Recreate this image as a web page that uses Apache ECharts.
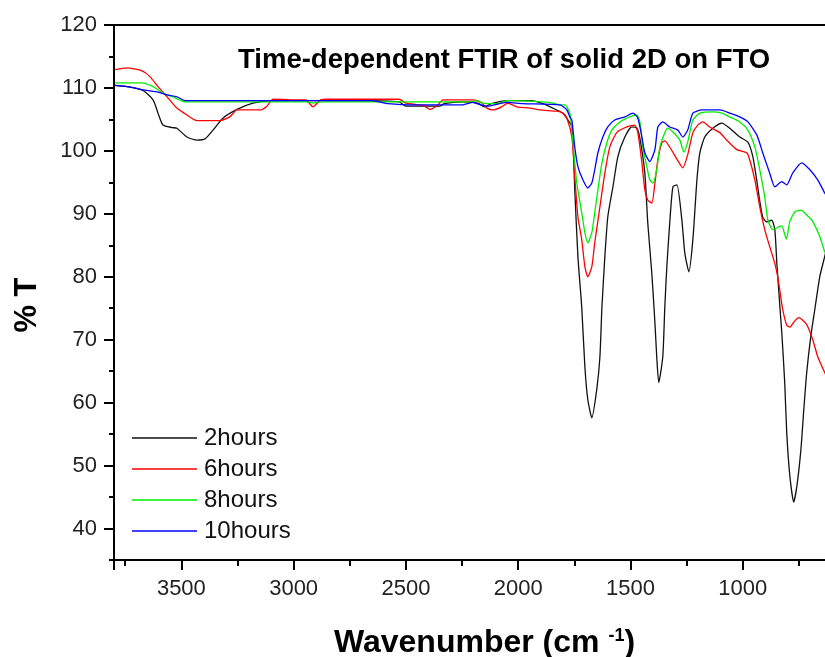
<!DOCTYPE html>
<html><head><meta charset="utf-8">
<script src="https://cdn.jsdelivr.net/npm/echarts@6/dist/echarts.min.js"></script>
<style>html,body{margin:0;padding:0;background:#fff}#c{width:825px;height:657px}</style>
</head><body><div id="c"></div>
<script>
const titleText = 'Time-dependent FTIR of solid 2D on FTO';
const seriesNames = ['2hours', '6hours', '8hours', '10hours'];
const xTickLabels = [3500, 3000, 2500, 2000, 1500, 1000];
const yTickLabels = [40, 50, 60, 70, 80, 90, 100, 110, 120];

const wn2h = [3795,3740,3671,3626,3604,3582,3540,3520,3475,3430,3395,3359,3315,3252,3181,3100,2900,2700,2530,2500,2350,2330,2250,2180,2150,2120,2050,1940,1890,1846,1801,1792,1761,1748,1734,1717,1703,1690,1672,1650,1636,1627,1614,1601,1578,1556,1525,1494,1472,1458,1436,1423,1405,1391,1383,1374,1356,1347,1338,1325,1311,1293,1271,1258,1240,1222,1204,1191,1169,1133,1093,1058,1013,977,955,937,924,911,893,871,857,848,835,826,813,804,790,773,759,741,728,715,697,679,657,635,620];
const t2h = [110.4,110.2,109.6,108.1,106.0,104.1,103.7,103.6,102.2,101.7,101.9,103.3,105.2,106.6,107.6,108.0,108.0,108.0,107.8,107.1,107.1,107.5,107.8,107.6,107.0,107.5,108.0,108.0,107.5,106.8,106.0,105.6,103.8,93.8,83.2,75.2,65.7,60.5,57.6,62.1,67.3,75.2,83.2,89.5,94.3,99.1,102.2,103.8,103.6,102.0,96.5,88.6,80.6,72.7,67.3,63.2,67.3,75.2,81.6,88.6,94.3,94.6,89.0,83.8,80.8,85.9,95.4,99.7,102.2,103.6,104.4,103.6,102.2,101.4,99.1,95.2,92.0,89.5,88.7,89.0,87.5,82.1,75.5,71.1,63.2,55.2,48.3,44.2,46.7,52.5,58.9,64.8,70.5,74.8,80.0,83.2,85.5];

const wn6h = [3795,3742,3675,3640,3604,3564,3520,3475,3430,3328,3284,3252,3150,3119,3105,3092,2963,2945,2914,2880,2852,2530,2500,2420,2393,2360,2335,2202,2162,2139,2113,2073,2046,2006,1948,1903,1828,1801,1783,1761,1748,1734,1717,1703,1690,1672,1659,1636,1614,1592,1561,1516,1481,1467,1449,1436,1423,1405,1391,1378,1360,1347,1320,1290,1267,1245,1222,1200,1178,1147,1102,1071,1026,982,969,946,924,902,880,857,844,835,822,804,790,768,750,715,688,666,635,620];
const t6h = [112.9,113.2,112.7,111.8,110.2,108.6,106.8,105.7,104.8,104.8,105.4,106.5,106.5,107.1,107.8,108.2,108.1,108.1,107.0,108.1,108.2,108.2,107.6,107.2,106.6,107.2,108.1,108.1,107.6,106.8,106.5,107.0,107.6,107.0,106.8,106.5,106.3,106.0,105.2,102.2,95.9,89.5,85.9,81.6,80.0,81.6,85.4,91.1,96.5,100.6,102.9,103.8,104.1,102.9,98.1,93.8,92.2,91.7,94.9,98.6,101.3,101.6,100.3,98.5,97.3,99.4,102.9,104.1,104.6,103.8,102.9,101.7,100.2,99.7,98.6,95.4,91.1,87.5,84.8,82.1,80.0,77.9,74.8,72.3,72.0,73.0,73.5,72.4,70.0,67.3,64.8,63.6];

const wn8h = [3795,3675,3626,3582,3540,3484,3300,3000,2945,2914,2880,2500,2210,2180,2158,2095,2050,1950,1846,1814,1792,1770,1757,1739,1717,1703,1690,1672,1659,1645,1627,1605,1583,1547,1503,1472,1458,1445,1427,1414,1400,1383,1369,1347,1334,1311,1280,1262,1245,1222,1191,1133,1093,1058,1013,977,946,924,902,888,866,835,826,806,790,768,740,715,692,657,635,620];
const t8h = [110.8,110.8,110.2,109.2,108.6,107.8,107.8,107.8,107.8,107.6,107.8,107.8,107.8,108.0,107.6,107.5,108.0,107.9,107.6,107.3,107.3,106.0,101.7,94.9,90.2,87.0,85.4,87.0,90.2,93.8,98.1,101.3,103.3,104.6,105.4,105.7,104.6,100.6,97.5,95.4,94.9,97.0,100.6,102.9,103.6,103.0,101.7,99.8,101.4,104.9,106.0,106.2,106.0,105.4,104.6,103.3,100.6,97.0,92.7,89.0,87.5,88.0,88.1,86.0,88.8,90.3,90.6,89.8,89.0,86.4,84.0,83.0];

const wn10h = [3795,3742,3671,3613,3564,3520,3484,3000,2650,2580,2450,2250,2202,2166,2139,2050,1980,1814,1783,1770,1761,1748,1734,1712,1690,1672,1659,1645,1623,1601,1570,1525,1489,1467,1449,1436,1414,1391,1378,1356,1325,1289,1267,1245,1222,1182,1102,1058,1013,977,937,911,880,857,826,804,777,737,701,666,635,620];
const t10h = [110.4,110.2,109.7,109.4,108.9,108.6,108.0,108.0,108.0,107.5,107.3,107.3,107.7,107.3,107.1,107.7,107.5,107.3,106.5,105.4,104.9,100.6,97.5,95.4,94.1,94.9,97.0,99.7,102.2,103.8,104.9,105.4,106.0,105.2,102.2,99.7,98.3,100.2,103.8,104.6,103.8,103.3,102.2,103.3,106.0,106.5,106.5,106.0,105.4,104.6,102.5,99.7,96.5,94.3,95.1,94.6,96.5,98.1,97.0,95.4,93.3,92.5];

const FONT = '"Liberation Sans", Arial, sans-serif';
function pairs(x, y) { return x.map((v, i) => [v, y[i]]); }
const colors = ['#111111', '#ff0000', '#00ee00', '#0000ff'];
const dataSets = [[wn2h, t2h], [wn6h, t6h], [wn8h, t8h], [wn10h, t10h]];

const chart = echarts.init(document.getElementById('c'), null, {renderer: 'canvas'});
const axisLineStyle = {color: '#000', width: 2};
chart.setOption({
  animation: false,
  backgroundColor: '#fff',
  title: {text: titleText, left: 233, top: 41,
    textStyle: {fontSize: 27.5, fontWeight: 'bold', fontFamily: FONT, color: '#000'}},
  grid: [
    {left: 114, top: 25, width: 741, height: 535, show: true, borderColor: '#000', borderWidth: 2,
     containLabel: false, outerBoundsMode: 'none'},
    {left: 114, top: 25, width: 741, height: 504, containLabel: false, outerBoundsMode: 'none'}
  ],
  legend: {
    data: seriesNames, orient: 'vertical', left: 127, top: 421,
    icon: 'rect', itemWidth: 65, itemHeight: 1.5, itemGap: 7,
    textStyle: {fontSize: 24, color: '#111', fontFamily: FONT, padding: [0, 0, 0, 2]}
  },
  xAxis: [
    {type: 'value', gridIndex: 0, inverse: true, min: 500, max: 3800, interval: 500,
     axisLine: {show: true, lineStyle: axisLineStyle},
     axisTick: {show: true, length: 10, lineStyle: axisLineStyle},
     minorTick: {show: true, splitNumber: 2, length: 6, lineStyle: axisLineStyle},
     splitLine: {show: false},
     axisLabel: {margin: 18, fontSize: 22, color: '#222', fontFamily: FONT,
       formatter: v => (xTickLabels.indexOf(v) >= 0 ? String(v) : '')},
     name: 'Wavenumber (cm {sup|-1})', nameLocation: 'middle', nameGap: 67,
     nameTextStyle: {fontSize: 32, fontWeight: 'bold', fontFamily: FONT, color: '#000',
       rich: {sup: {fontSize: 18, fontWeight: 'bold', fontFamily: FONT, color: '#000', verticalAlign: 'top'}}}
    },
    {type: 'value', gridIndex: 1, show: false, min: 0, max: 1}
  ],
  yAxis: [
    {type: 'value', gridIndex: 0, min: 35, max: 120, interval: 5,
     axisLine: {show: true, lineStyle: axisLineStyle},
     axisTick: {show: true, length: 5, lineStyle: axisLineStyle},
     axisLabel: {show: false}, splitLine: {show: false}},
    {type: 'value', gridIndex: 1, min: 40, max: 120, interval: 10,
     axisLine: {show: false},
     axisTick: {show: true, length: 10, lineStyle: axisLineStyle},
     axisLabel: {margin: 17, fontSize: 22, color: '#222', fontFamily: FONT,
       formatter: v => (yTickLabels.indexOf(v) >= 0 ? String(v) : '')},
     splitLine: {show: false}}
  ],
  graphic: [{
    type: 'text', x: 27, y: 305, rotation: Math.PI / 2,
    style: {text: '% T', fontSize: 31, fontWeight: 'bold', fontFamily: FONT, fill: '#000',
      align: 'center', verticalAlign: 'middle'}
  }],
  series: dataSets.map((d, i) => ({
    type: 'line', name: seriesNames[i], xAxisIndex: 0, yAxisIndex: 0,
    data: pairs(d[0], d[1]), symbol: 'none', showSymbol: false,
    smooth: 0.2,
    lineStyle: {width: 1.3, color: colors[i]}, itemStyle: {color: colors[i]}
  }))
});
</script></body></html>
